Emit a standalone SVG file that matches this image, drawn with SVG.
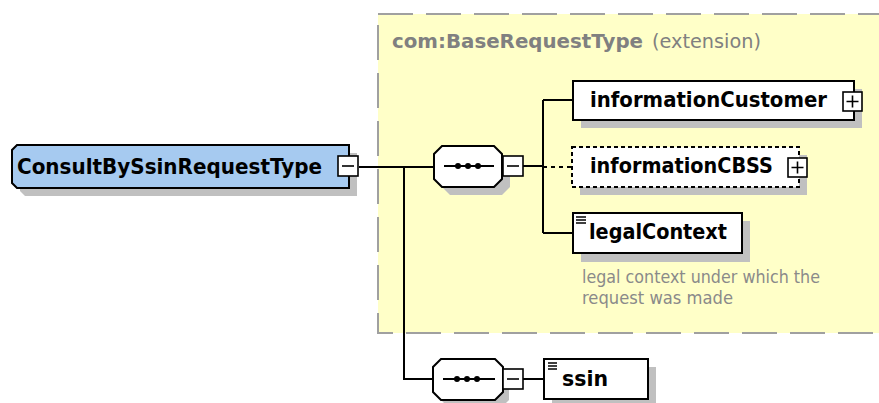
<svg xmlns="http://www.w3.org/2000/svg" width="879" height="403" viewBox="0 0 879 403">
<style>
.shadow{fill:#c0c0c0;stroke:none}
.box{fill:#ffffff;stroke:#000000;stroke-width:2}
.opt{fill:#ffffff;stroke:#000000;stroke-width:2;stroke-dasharray:4 3}
.btn{fill:#ffffff;stroke:#000000;stroke-width:1.6}
.sign{stroke:#000000;stroke-width:1.6;fill:none}
.line{stroke:#000000;stroke-width:2;fill:none}
.dline{stroke:#000000;stroke-width:2;fill:none;stroke-dasharray:4 4}
.lbl{font-family:"DejaVu Sans",sans-serif;font-weight:bold;font-size:20.5px;fill:#000000}
.title{font-family:"DejaVu Sans",sans-serif;font-weight:bold;font-size:19.5px;fill:#808080}
.titlen{font-family:"DejaVu Sans",sans-serif;font-size:19.5px;fill:#808080}
.doc{font-family:"DejaVu Sans",sans-serif;font-size:17px;fill:#8a8a8a}
.icon{stroke:#000000;stroke-width:1.5}
</style>
<rect width="879" height="403" fill="#ffffff"/>
<g id="extension">
<rect x="378" y="14" width="520" height="319" fill="#ffffc8" stroke="#a0a0a0" stroke-width="2" stroke-dasharray="35 13"/>
<text class="title" x="392" y="48" textLength="251" lengthAdjust="spacingAndGlyphs">com:BaseRequestType</text>
<text class="titlen" x="652" y="48" textLength="109" lengthAdjust="spacingAndGlyphs">(extension)</text>
</g>
<g id="connectors">
<path class="line" d="M359,167 H434"/>
<path class="line" d="M404,167 V379 H433"/>
<path class="line" d="M523,166 H543"/>
<path class="line" d="M543,100 V233"/>
<path class="line" d="M543,100 H573"/>
<path class="dline" d="M543,167 H572"/>
<path class="line" d="M543,233 H573"/>
<path class="line" d="M523,379 H544"/>
</g>
<g id="ConsultBySsinRequestType">
<path class="shadow" d="M25,153 H357 V196 H25 L20,191 V158 Z"/>
<path d="M17,145 H349 V188 H17 L12,183 V150 Z" fill="#a6caf0" stroke="#000000" stroke-width="2"/>
<text class="lbl" x="17" y="174" textLength="305" lengthAdjust="spacingAndGlyphs">ConsultBySsinRequestType</text>
<rect class="btn" x="338" y="156" width="20" height="20"/>
<path class="sign" d="M342,166 H354"/>
</g>
<g id="sequence1">
<path class="shadow" d="M450,154 H502 L510,162 V187 L502,195 H450 L442,187 V162 Z"/>
<path class="box" d="M442,146 H494 L502,154 V179 L494,187 H442 L434,179 V154 Z"/>
<path class="line" d="M444,166 H494"/>
<circle cx="458" cy="166" r="3"/>
<circle cx="468" cy="166" r="3"/>
<circle cx="478" cy="166" r="3"/>
<rect class="btn" x="503" y="156" width="20" height="20"/>
<path class="sign" d="M507,166 H519"/>
</g>
<g id="informationCustomer">
<rect class="shadow" x="581" y="89" width="281" height="39"/>
<rect class="box" x="573" y="81" width="281" height="39"/>
<text class="lbl" x="590" y="107" textLength="237" lengthAdjust="spacingAndGlyphs">informationCustomer</text>
<rect class="btn" x="843" y="92" width="19" height="19"/>
<path class="sign" d="M846.5,101.5 H858.5 M852.5,95.5 V107.5"/>
</g>
<g id="informationCBSS">
<rect class="shadow" x="580" y="155" width="227" height="40"/>
<rect class="opt" x="572" y="147" width="227" height="40"/>
<text class="lbl" x="590" y="173" textLength="183" lengthAdjust="spacingAndGlyphs">informationCBSS</text>
<rect class="btn" x="788" y="158" width="19" height="19"/>
<path class="sign" d="M791.5,167.5 H803.5 M797.5,161.5 V173.5"/>
</g>
<g id="legalContext">
<rect class="shadow" x="581" y="221" width="169" height="41"/>
<rect class="box" x="573" y="213" width="169" height="40"/>
<path class="icon" d="M576,217 H586 M576,220 H586 M576,223 H586"/>
<text class="lbl" x="589" y="239" textLength="138" lengthAdjust="spacingAndGlyphs">legalContext</text>
<text class="doc" x="582" y="283" textLength="238" lengthAdjust="spacingAndGlyphs">legal context under which the</text>
<text class="doc" x="582" y="304" textLength="151" lengthAdjust="spacingAndGlyphs">request was made</text>
</g>
<g id="sequence2">
<path class="shadow" d="M449,367 H501 L509,375 V400 L501,408 H449 L441,400 V375 Z"/>
<path class="box" d="M441,359 H495 L503,367 V392 L495,400 H441 L433,392 V367 Z"/>
<path class="line" d="M443,379 H495"/>
<circle cx="457" cy="379" r="3"/>
<circle cx="467" cy="379" r="3"/>
<circle cx="477" cy="379" r="3"/>
<rect class="btn" x="503" y="369" width="20" height="20"/>
<path class="sign" d="M507,379 H519"/>
</g>
<g id="ssin">
<rect class="shadow" x="552" y="367" width="104" height="40"/>
<rect class="box" x="544" y="359" width="104" height="40"/>
<path class="icon" d="M548,363 H557 M548,366 H557 M548,369 H557"/>
<text class="lbl" x="562" y="386" textLength="46" lengthAdjust="spacingAndGlyphs">ssin</text>
</g>
</svg>
